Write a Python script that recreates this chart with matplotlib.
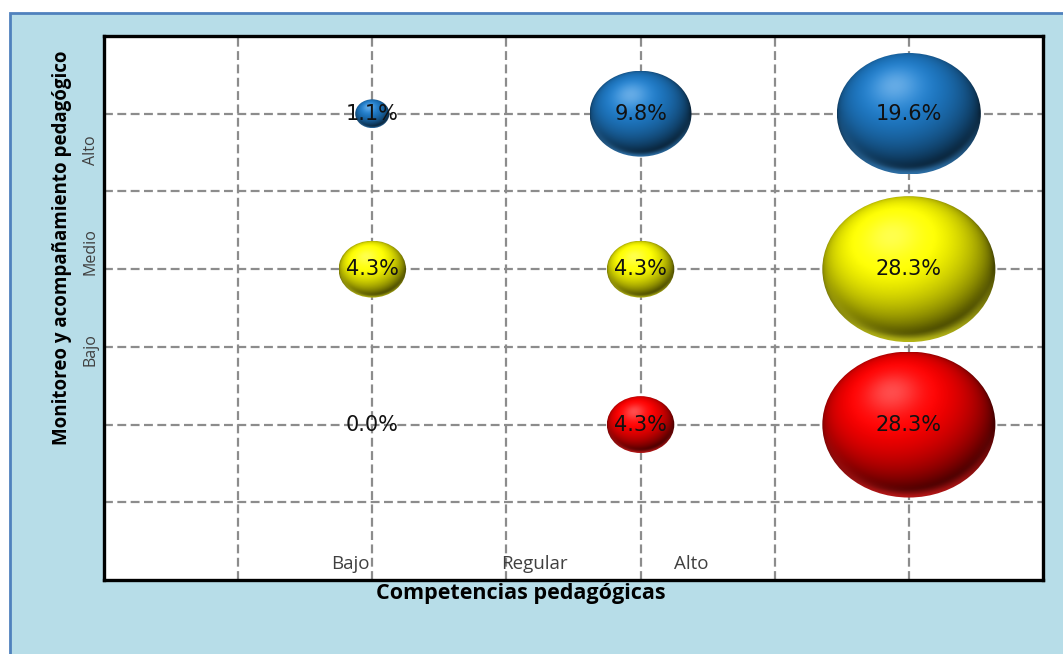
import numpy as np
import matplotlib
matplotlib.use("Agg")
import matplotlib.pyplot as plt
from matplotlib.patches import Ellipse, Rectangle
from matplotlib.ticker import FixedLocator, NullFormatter

# ---- data ----
x_categories = ["Bajo", "Regular", "Alto"]
y_categories = ["Bajo", "Medio", "Alto"]
x_positions = [2, 4, 6]
y_positions = [2, 4, 6]
values_alto = [1.1, 9.8, 19.6]    # blue row (Monitoreo Alto)
values_medio = [4.3, 4.3, 28.3]   # yellow row
values_bajo = [0.0, 4.3, 28.3]    # red row
row_values = [values_bajo, values_medio, values_alto]
row_colors = [(1.0, 0.0, 0.0), (1.0, 1.0, 0.0), (0.12, 0.48, 0.78)]

fig = plt.figure(figsize=(10.63, 6.54), dpi=100)
fig.patch.set_facecolor("white")
bg = Rectangle((10 / 1063, -0.01), 1.02 - 10 / 1063, 1.01 - 13 / 654,
               transform=fig.transFigure, facecolor="#B7DDE8",
               edgecolor="#4F81BD", linewidth=2, zorder=-10)
fig.add_artist(bg)

ax = fig.add_axes([104 / 1063, 74 / 654, (1043 - 104) / 1063, (580 - 36) / 654])
ax.set_zorder(1)
ax.set_facecolor("white")
ax.set_xlim(0, 7)
ax.set_ylim(0, 7)

# grid
ax.xaxis.set_major_locator(FixedLocator([1, 2, 3, 4, 5, 6]))
ax.yaxis.set_major_locator(FixedLocator([1, 2, 3, 4, 5, 6]))
ax.xaxis.set_major_formatter(NullFormatter())
ax.yaxis.set_major_formatter(NullFormatter())
ax.tick_params(which="major", length=0)
ax.grid(True, which="major", color="#8C8C8C", linestyle=(0, (4, 2)), linewidth=1.6)
ax.set_axisbelow(True)
for s in ax.spines.values():
    s.set_linewidth(2.4)
    s.set_color("black")

# category labels (Excel-like odd placement)
xlab_pos = [1.84, 3.21, 4.38]
for xp, lab in zip(xlab_pos, x_categories):
    ax.text(xp, 0.2, lab, ha="center", va="center", fontsize=13.5,
            color="#404040", family="Open Sans")
ylab_pos = [2.96, 4.23, 5.53]
for yp, lab in zip(ylab_pos, y_categories):
    ax.text(-0.1, yp, lab, ha="center", va="center", fontsize=11.5, rotation=90,
            color="#404040", family="Open Sans", transform=ax.transData, clip_on=False)

fig.text(521 / 1063, 1 - 593 / 654, "Competencias pedagógicas",
         ha="center", va="center", fontsize=15.5, fontweight="bold", family="Open Sans",
         zorder=5)
fig.text(62 / 1063, 1 - 248 / 654, "Monitoreo y acompañamiento pedagógico",
         rotation=90, ha="center", va="center", fontsize=13.5, fontweight="bold",
         family="Open Sans")

# bubble shading
n = 240
u = np.linspace(-1, 1, n)
U, V = np.meshgrid(u, u)
R = np.sqrt(U ** 2 + V ** 2)
NZ = np.sqrt(np.clip(1 - R ** 2, 0, 1))
L = np.array([-0.2, 0.45, 0.87])
L = L / np.linalg.norm(L)
diff = np.clip(U * L[0] + V * L[1] + NZ * L[2], 0, 1)


def shaded(base):
    base = np.array(base)
    img = base[None, None, :] * (0.28 + 0.82 * diff[..., None])
    img = np.clip(img, 0, 1)
    spec = (diff ** 18 * 0.3)[..., None]
    img = img * (1 - spec) + spec
    rim = (np.exp(-((1 - R) / 0.09) ** 2) * np.clip(-V, 0, 1) * 0.6)[..., None]
    img = img * (1 - rim) + np.clip(base * 1.0 + 0.15, 0, 1) * rim
    return np.clip(img, 0, 1)


kx = 0.2425
ky = 0.353
for yp, vals, col in zip(y_positions, row_values, row_colors):
    img = shaded(col)
    for xp, v in zip(x_positions, vals):
        w = kx * np.sqrt(v)
        h = ky * np.sqrt(v)
        if v > 0:
            e = Ellipse((xp, yp), w, h, transform=ax.transData,
                        facecolor="none", edgecolor="none")
            ax.add_patch(e)
            im = ax.imshow(img, extent=[xp - w / 2, xp + w / 2, yp - h / 2, yp + h / 2],
                           origin="lower", aspect="auto", zorder=3,
                           interpolation="bilinear")
            im.set_clip_path(e)
        ax.text(xp, yp, f"{v:.1f}%", ha="center", va="center", fontsize=15,
                color="#111111", zorder=5)

ax.set_xlim(0, 7)
ax.set_ylim(0, 7)
fig.savefig("out.png", dpi=100, facecolor=fig.get_facecolor())
